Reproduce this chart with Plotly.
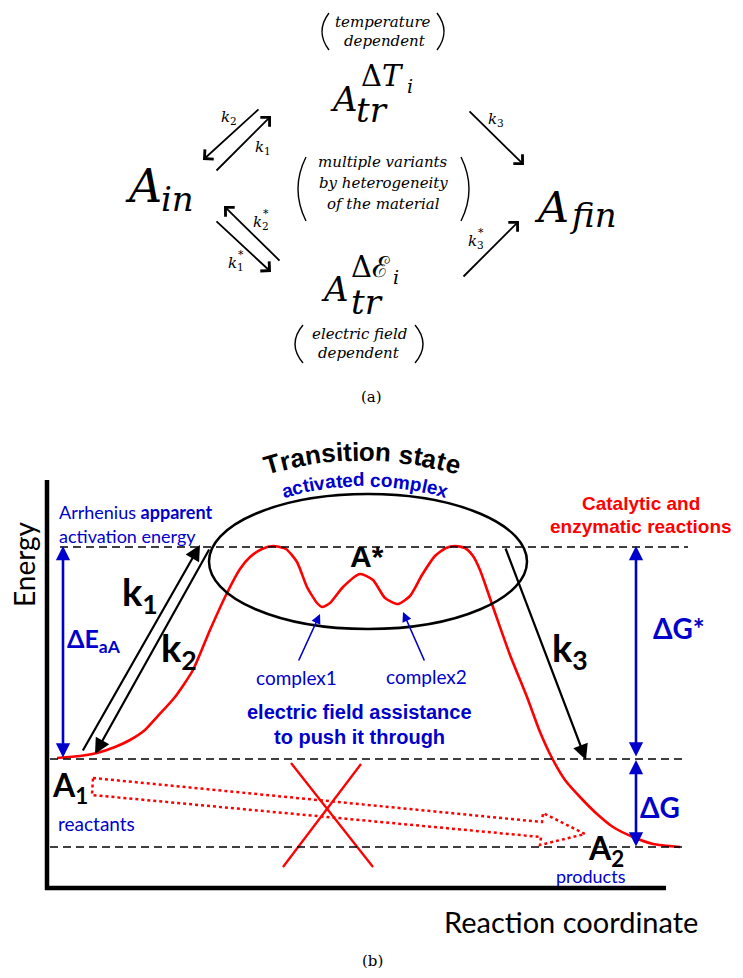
import math
import plotly.graph_objects as go

W, H = 743, 978
BLUE = "#0000CC"
RED = "#FF0000"
BLACK = "#000000"
SERIF = "DejaVu Serif"
ARIAL = "Liberation Sans"
CAL = "Lato"

# ---------------- panel (b) data (pixel space of the figure) ----------------
profile_x = [57, 80, 97, 115, 130, 145, 157, 175, 193, 210, 227, 240, 250, 262, 273, 286, 297, 307, 317,
             322, 330, 343, 360, 373, 385, 398, 410, 422, 435, 446, 455, 465, 473, 480, 493, 510, 527, 540,
             552, 565, 580, 597, 613, 633, 653, 680]
profile_y = [758, 756, 753, 747, 740, 730, 717, 697, 670, 630, 593, 569, 557, 549, 546, 549, 562, 587, 603,
             607, 603, 587, 574, 580, 598, 604, 596, 575, 556, 548, 546, 548, 556, 570, 607, 655, 697, 732,
             758, 780, 797, 814, 827, 837, 844, 847]

level_names = ["transition", "reactants", "products"]
level_y = [547, 759, 847]
level_x0 = [60, 50, 50]
level_x1 = [688, 683, 683]

axis_x = [47, 47, 666]
axis_y = [480, 888, 888]

ellipse_box = [209, 494, 527, 629]  # x0, y0, x1, y1

blocked_x = [93, 542, 543, 585, 540, 541, 92, 93]
blocked_y = [778, 822, 813, 834, 845, 837, 795, 778]

cross_a_x = [291, 373]
cross_a_y = [763, 867]
cross_b_x = [361, 283]
cross_b_y = [764, 867]

# arrows: (head, tail)
k_arrows_b = {"k1": ((200, 545), (82, 752)),
              "k2": ((95, 754), (210, 548)),
              "k3": ((586, 760), (505, 547))}
complex_arrows = {"complex1": ((320, 614), (298, 662)),
                  "complex2": ((403, 612), (425, 662))}
blue_double = {"dEaA": ((63, 546), (63, 759)),
               "dGstar": ((636, 546), (636, 758)),
               "dG": ((636, 760), (636, 848))}

# arched labels: text, arc centre, radius, font size, colour
arc_labels = [("Transition state", (362, 781), 321, 26, BLACK),
              ("activated complex", (365, 770), 284, 19, BLUE)]

# ---------------- panel (a) data ----------------
k_arrows_a = {"k2": ((203, 160), (260, 108)),
              "k1": ((271, 116), (215, 172)),
              "k3": ((524, 165), (468, 110)),
              "k2s": ((224, 206), (281, 262)),
              "k1s": ((271, 272), (215, 220)),
              "k3s": ((519, 221), (462, 278))}

parens = [  # (x_top/bottom, x_bulge, y0, y1)
    (329, 322, 13, 50), (437, 444, 13, 50),
    (306, 298, 157, 221), (461, 469, 157, 221),
    (303, 295, 325, 363), (415, 423, 325, 363),
]

fig = go.Figure()

fig.add_trace(go.Scatter(x=profile_x, y=profile_y, mode="lines",
                         line=dict(color=RED, width=2.6, shape="spline", smoothing=0.6),
                         hoverinfo="skip"))
fig.add_trace(go.Scatter(x=blocked_x, y=blocked_y, mode="lines",
                         line=dict(color=RED, width=2.5, dash="dot"), hoverinfo="skip"))
fig.add_trace(go.Scatter(x=cross_a_x, y=cross_a_y, mode="lines", line=dict(color=RED, width=2.3), hoverinfo="skip"))
fig.add_trace(go.Scatter(x=cross_b_x, y=cross_b_y, mode="lines", line=dict(color=RED, width=2.3), hoverinfo="skip"))

shapes = []
shapes.append(dict(type="line", x0=axis_x[0], y0=axis_y[0], x1=axis_x[1], y1=axis_y[1] + 2,
                   line=dict(color=BLACK, width=4.5)))
shapes.append(dict(type="line", x0=axis_x[1] - 2, y0=axis_y[1], x1=axis_x[2], y1=axis_y[2],
                   line=dict(color=BLACK, width=4.5)))
for y, x0, x1 in zip(level_y, level_x0, level_x1):
    shapes.append(dict(type="line", x0=x0, x1=x1, y0=y, y1=y,
                       line=dict(color=BLACK, width=1.5, dash="8px,5px")))
shapes.append(dict(type="circle", x0=ellipse_box[0], y0=ellipse_box[1], x1=ellipse_box[2], y1=ellipse_box[3],
                   line=dict(color=BLACK, width=2.5)))
for xe, xb, y0, y1 in parens:
    ym = (y0 + y1) / 2
    shapes.append(dict(type="path", path=f"M {xe},{y0} Q {2*xb - xe},{ym} {xe},{y1}",
                       line=dict(color=BLACK, width=1.4)))
fig.update_layout(shapes=shapes)


def arrow(head, tail, color, width, size, style, side="end"):
    fig.add_annotation(x=head[0], y=head[1], ax=tail[0], ay=tail[1], xref="x", yref="y",
                       axref="x", ayref="y", text="", showarrow=True, arrowhead=style,
                       startarrowhead=style, arrowsize=size, startarrowsize=size,
                       arrowwidth=width, arrowcolor=color, arrowside=side,
                       standoff=0, startstandoff=0)


for head, tail in k_arrows_b.values():
    arrow(head, tail, BLACK, 2.2, 1.4, 2)
for head, tail in complex_arrows.values():
    arrow(head, tail, BLUE, 1.6, 1.2, 2)
for head, tail in blue_double.values():
    arrow(head, tail, BLUE, 2.6, 1.1, 2, side="end+start")
for head, tail in k_arrows_a.values():
    arrow(head, tail, BLACK, 1.8, 1.4, 4)


def txt(x, y, s, size, family, color=BLACK, angle=0, xanchor="center", yanchor="middle"):
    fig.add_annotation(x=x, y=y, xref="x", yref="y", text=s, showarrow=False,
                       font=dict(size=size, family=family, color=color), textangle=angle,
                       xanchor=xanchor, yanchor=yanchor)


# Arial-bold advance widths (em) for arched text
BOLD_W = {"T": .611, "r": .389, "a": .556, "n": .611, "s": .556, "i": .278, "t": .333, "o": .611,
          " ": .278, "e": .556, "c": .556, "v": .556, "d": .611, "m": .889, "p": .611, "l": .278, "x": .556}

for text, (cx, cy), radius, size, color in arc_labels:
    widths = [BOLD_W[ch] * size for ch in text]
    total = sum(widths)
    pos = -total / 2
    r_mid = radius + 0.32 * size
    for ch, w in zip(text, widths):
        centre = pos + w / 2
        pos += w
        if ch == " ":
            continue
        theta = centre / radius
        txt(cx + r_mid * math.sin(theta), cy - r_mid * math.cos(theta), f"<b>{ch}</b>", size, ARIAL,
            color, angle=math.degrees(theta))

# ---------------- panel (a) text ----------------
it = lambda s: f"<i>{s}</i>"
txt(383, 22, it("temperature"), 15, SERIF)
txt(385, 41, it("dependent"), 15, SERIF)
txt(344, 99, it("A"), 34, SERIF)
txt(382, 76, "Δ" + it("T"), 29, SERIF)
txt(410, 86, it("i"), 19, SERIF)
txt(372, 110, it("tr"), 34, SERIF)

txt(383, 162, it("multiple variants"), 15, SERIF)
txt(383, 183, it("by heterogeneity"), 15, SERIF)
txt(383, 204, it("of the material"), 15, SERIF)

txt(143, 186, it("A"), 46, SERIF)
txt(177, 199, it("in"), 34, SERIF)
txt(551, 207, it("A"), 43, SERIF)
txt(593, 215, it("fin"), 34, SERIF)

txt(335, 289, it("A"), 34, SERIF)
txt(370, 267, "Δℰ", 29, SERIF)
txt(396, 277, it("i"), 19, SERIF)
txt(367, 302, it("tr"), 34, SERIF)
txt(359, 334, it("electric field"), 15, SERIF)
txt(359, 353, it("dependent"), 15, SERIF)
txt(371, 397, "(a)", 15, SERIF)

txt(229, 117, it("k") + "<sub>2</sub>", 15, SERIF)
txt(263, 147, it("k") + "<sub>1</sub>", 15, SERIF)
txt(496, 119, it("k") + "<sub>3</sub>", 15, SERIF)
txt(261, 222, it("k") + "<sub>2</sub>", 15, SERIF)
txt(266, 213, "*", 11, SERIF)
txt(236, 263, it("k") + "<sub>1</sub>", 15, SERIF)
txt(241, 254, "*", 11, SERIF)
txt(476, 241, it("k") + "<sub>3</sub>", 15, SERIF)
txt(481, 232, "*", 11, SERIF)

# ---------------- panel (b) text ----------------
txt(24, 564, "Energy", 28, CAL, angle=-90)
txt(571, 921, "Reaction coordinate", 29, CAL)
txt(372, 961, "(b)", 15, SERIF)

txt(367, 556, "<b>A*</b>", 30, ARIAL)

txt(57, 512, "Arrhenius <b>apparent</b>", 18, CAL, BLUE, xanchor="left")
txt(57, 536, "activation energy", 18, CAL, BLUE, xanchor="left")
txt(65, 640, "<b>ΔE<sub>aA</sub></b>", 25, CAL, BLUE, xanchor="left")

txt(120, 594, "<b>k<sub>1</sub></b>", 38, CAL, xanchor="left")
txt(159, 650, "<b>k<sub>2</sub></b>", 38, CAL, xanchor="left")
txt(550, 650, "<b>k<sub>3</sub></b>", 38, CAL, xanchor="left")

txt(296, 677, "complex1", 19, CAL, BLUE)
txt(426, 676, "complex2", 19, CAL, BLUE)
txt(359, 712, "<b>electric field assistance</b>", 20, ARIAL, BLUE)
txt(359, 737, "<b>to push it through</b>", 20, ARIAL, BLUE)

txt(641, 503, "<b>Catalytic and</b>", 19, ARIAL, RED)
txt(641, 526, "<b>enzymatic reactions</b>", 19, ARIAL, RED)
txt(679, 628, "<b>ΔG*</b>", 28, CAL, BLUE)
txt(660, 807, "<b>ΔG</b>", 28, CAL, BLUE)

txt(50, 787, "<b>A<sub>1</sub></b>", 32, CAL, xanchor="left")
txt(96, 823, "reactants", 19, CAL, BLUE)
txt(586, 850, "<b>A<sub>2</sub></b>", 32, CAL, xanchor="left")
txt(591, 876, "products", 18, CAL, BLUE)

fig.update_xaxes(range=[0, W], visible=False, fixedrange=True)
fig.update_yaxes(range=[H, 0], visible=False, fixedrange=True)
fig.update_layout(width=W, height=H, margin=dict(l=0, r=0, t=0, b=0),
                  plot_bgcolor="white", paper_bgcolor="white", showlegend=False)

fig.write_html("out.html")
